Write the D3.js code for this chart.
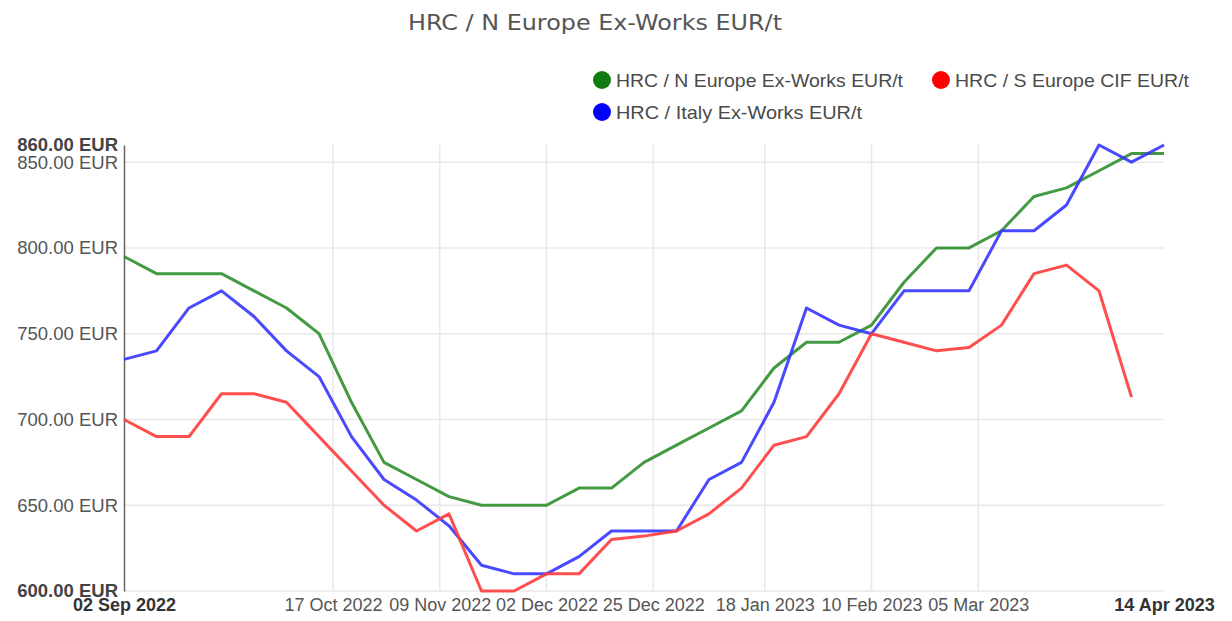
<!DOCTYPE html>
<html>
<head>
<meta charset="utf-8">
<script src="https://cdn.jsdelivr.net/npm/d3@7"></script>
<style>
  body { margin: 0; background: #fff; }
  text { font-family: "Liberation Sans", Arial, sans-serif; }
</style>
</head>
<body>
<svg id="chart" width="1232" height="621"></svg>
<script>
// weekly dates
var dates = ["2022-09-02","2022-09-09","2022-09-16","2022-09-23","2022-09-30","2022-10-07","2022-10-14",
  "2022-10-21","2022-10-28","2022-11-04","2022-11-11","2022-11-18","2022-11-25","2022-12-02","2022-12-09",
  "2022-12-16","2022-12-23","2022-12-30","2023-01-06","2023-01-13","2023-01-20","2023-01-27","2023-02-03",
  "2023-02-10","2023-02-17","2023-02-24","2023-03-03","2023-03-10","2023-03-17","2023-03-24","2023-03-31",
  "2023-04-07","2023-04-14"];

var nEurope = [795,785,785,785,775,765,750,710,675,665,655,650,650,650,660,660,675,685,695,705,730,745,745,755,
  780,800,800,810,830,835,845,855,855];
var italy = [735,740,765,775,760,740,725,690,665,653,638,615,610,610,620,635,635,635,665,675,710,765,755,750,
  775,775,775,810,810,825,860,850,860];
var sEurope = [700,690,690,715,715,710,690,670,650,635,645,600,600,610,610,630,632,635,645,660,685,690,715,750,
  745,740,742,755,785,790,775,713,null];

var xTicks = ["2022-10-17","2022-11-09","2022-12-02","2022-12-25","2023-01-18","2023-02-10","2023-03-05"];
var xEnds = ["2022-09-02","2023-04-14"];
var yTicks = [650,700,750,800,850];
var yEnds = [600,860];

var series = [
  {name: "HRC / N Europe Ex-Works EUR/t", values: nEurope, line: "#2f8f2f", dot: "#117a11"},
  {name: "HRC / S Europe CIF EUR/t", values: sEurope, line: "#ff3b3b", dot: "#ff0000"},
  {name: "HRC / Italy Ex-Works EUR/t", values: italy, line: "#3535ff", dot: "#0000ff"}
];

var svg = d3.select("#chart");
var parse = d3.utcParse("%Y-%m-%d");
var fmt = d3.utcFormat("%d %b %Y");

var x = d3.scaleUtc().domain(xEnds.map(parse)).range([124, 1164]);
var y = d3.scaleLinear().domain(yEnds).range([591, 145]);

// title
svg.append("text").attr("x", 408).attr("y", 30)
  .style("font-family", "'DejaVu Sans', sans-serif").style("font-size", "21px").attr("fill", "#555")
  .attr("textLength", 374).attr("lengthAdjust", "spacingAndGlyphs")
  .text("HRC / N Europe Ex-Works EUR/t");

// legend
var legendPos = [[602, 80, 287], [941, 80, 234], [602, 112, 246]];
series.forEach(function(s, i) {
  var g = svg.append("g").attr("transform", "translate(" + legendPos[i][0] + "," + legendPos[i][1] + ")");
  g.append("circle").attr("r", 9).attr("fill", s.dot);
  g.append("text").attr("x", 14).attr("y", 7).style("font-size", "19px").attr("fill", "#4a4a4a")
    .attr("textLength", legendPos[i][2]).attr("lengthAdjust", "spacingAndGlyphs").text(s.name);
});

// grid
svg.append("g").selectAll("line").data(yTicks.concat([600])).enter().append("line")
  .attr("x1", 124).attr("x2", 1164).attr("y1", function(d) { return y(d); }).attr("y2", function(d) { return y(d); })
  .attr("stroke", "#e8e8e8").attr("stroke-width", 1.5);
svg.append("g").selectAll("line").data(xTicks).enter().append("line")
  .attr("x1", function(d) { return x(parse(d)); }).attr("x2", function(d) { return x(parse(d)); })
  .attr("y1", 145).attr("y2", 591)
  .attr("stroke", "#e8e8e8").attr("stroke-width", 1.5);

// y axis
var yAxis = svg.append("g").attr("transform", "translate(124,0)")
  .call(d3.axisLeft(y).tickValues(yEnds.concat(yTicks)).tickSize(0).tickPadding(6)
    .tickFormat(function(d) { return d3.format(".2f")(d) + " EUR"; }));
yAxis.select(".domain").attr("stroke", "#666").attr("stroke-width", 1.5);
yAxis.selectAll("text").style("font-size", "18.5px")
  .style("font-weight", function(d) { return yEnds.indexOf(d) >= 0 ? "bold" : "normal"; })
  .attr("fill", function(d) { return yEnds.indexOf(d) >= 0 ? "#444" : "#555"; });

// x axis
var isEnd = function(d) { return xEnds.map(parse).some(function(e) { return +e === +d; }); };
var xAxis = svg.append("g").attr("transform", "translate(0,591)")
  .call(d3.axisBottom(x).tickValues(xEnds.concat(xTicks).map(parse)).tickSize(0).tickPadding(7)
    .tickFormat(fmt));
xAxis.select(".domain").remove();
xAxis.selectAll("text").style("font-size", "18px")
  .style("font-weight", function(d) { return isEnd(d) ? "bold" : "normal"; })
  .attr("fill", function(d) { return isEnd(d) ? "#333" : "#555"; });

// lines
var line = d3.line()
  .defined(function(d) { return d.v != null; })
  .x(function(d) { return x(d.date); })
  .y(function(d) { return y(d.v); });

[series[0], series[2], series[1]].forEach(function(s) {
  var pts = dates.map(function(d, i) { return {date: parse(d), v: s.values[i]}; });
  svg.append("path").datum(pts).attr("d", line)
    .attr("fill", "none").attr("stroke", s.line).attr("stroke-width", 3).attr("stroke-opacity", 0.9)
    .attr("stroke-linejoin", "round");
});
</script>
</body>
</html>
